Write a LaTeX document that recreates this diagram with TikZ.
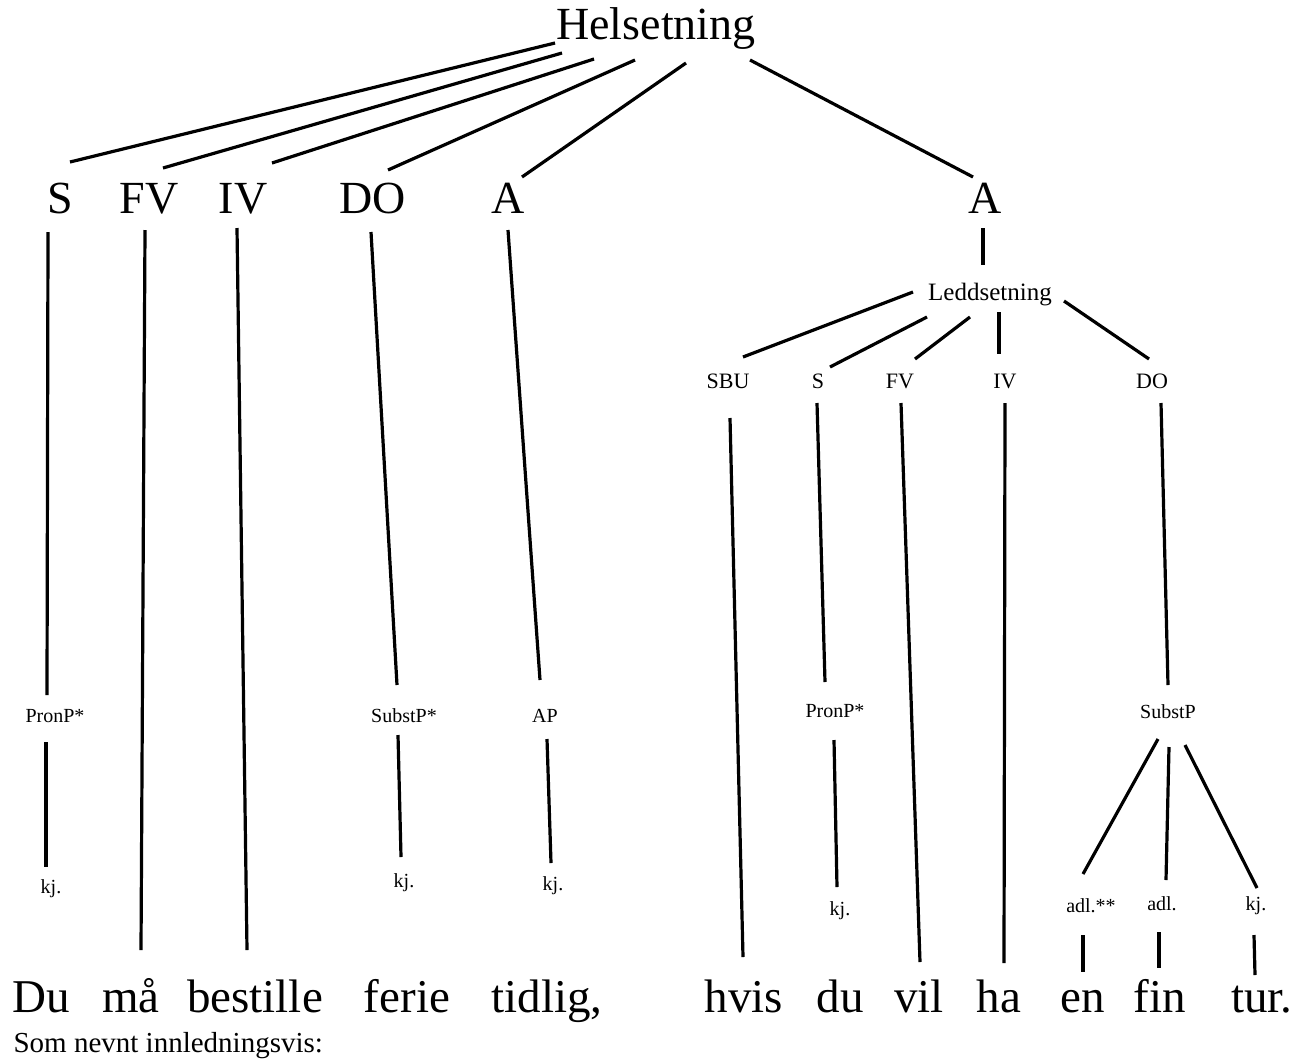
\documentclass[tikz,border=0pt]{standalone}
\usepackage{fontspec}
\setmainfont{Liberation Serif}
\begin{document}
\begin{tikzpicture}[x=1pt,y=-1pt,line width=3.2pt,
  lbl/.style={anchor=base,inner sep=0pt,outer sep=0pt},
  big/.style={lbl,font=\fontsize{46}{46}\selectfont},
  mid/.style={lbl,font=\fontsize{25}{25}\selectfont},
  rowlbl/.style={lbl,font=\fontsize{22}{22}\selectfont},
  sm/.style={lbl,font=\fontsize{20}{20}\selectfont},
  word/.style={lbl,font=\fontsize{47}{47}\selectfont},
  note/.style={anchor=base west,inner sep=0pt,font=\fontsize{29}{29}\selectfont},
  edge/.style={draw=black,line width=3.2pt}]
\useasboundingbox (0,0) rectangle (1311,1061);
\fill[white] (0,0) rectangle (1311,1061);

% main clause
\node[big] (H) at (656,39) {Helsetning};
\node[big] (S) at (60,213) {S};
\node[big] (FV) at (149,213) {FV};
\node[big] (IV) at (243,213) {IV};
\node[big] (DO) at (373,213) {DO};
\node[big] (A1) at (508,213) {A};
\node[big] (A2) at (985,213) {A};

\draw[edge] ([shift={(-101,4)}]H.base) -- ([shift={(10,-51)}]S.base);
\draw[edge] ([shift={(-94,14)}]H.base) -- ([shift={(14,-45)}]FV.base);
\draw[edge] ([shift={(-62,20)}]H.base) -- ([shift={(29,-50)}]IV.base);
\draw[edge] ([shift={(-21,21)}]H.base) -- ([shift={(15,-43)}]DO.base);
\draw[edge] ([shift={(30,24)}]H.base) -- ([shift={(14,-36)}]A1.base);
\draw[edge] ([shift={(94,21)}]H.base) -- ([shift={(-12,-36)}]A2.base);

% subordinate clause
\node[mid] (L) at (990,300) {Leddsetning};
\draw[edge] ([shift={(-2,15)}]A2.base) -- ([shift={(-7,-35)}]L.base);

\node[rowlbl] (SBU) at (728,388) {SBU};
\node[rowlbl] (S2) at (818,388) {S};
\node[rowlbl] (FV2) at (900,388) {FV};
\node[rowlbl] (IV2) at (1005,388) {IV};
\node[rowlbl] (DO2) at (1152,388) {DO};

\draw[edge] ([shift={(-77,-8)}]L.base) -- ([shift={(15,-31)}]SBU.base);
\draw[edge] ([shift={(-63,17)}]L.base) -- ([shift={(12,-21)}]S2.base);
\draw[edge] ([shift={(-20,17)}]L.base) -- ([shift={(15,-29)}]FV2.base);
\draw[edge] ([shift={(9,12)}]L.base) -- ([shift={(-6,-34)}]IV2.base);
\draw[edge] ([shift={(74,1)}]L.base) -- ([shift={(-3,-29)}]DO2.base);

% words
\node[word] (w1) at (41,1012) {Du};
\node[word] (w2) at (131,1012) {må};
\node[word] (w3) at (255,1012) {bestille};
\node[word] (w4) at (407,1012) {ferie};
\node[word] (w5) at (547,1012) {tidlig,};
\node[word] (w6) at (744,1012) {hvis};
\node[word] (w7) at (840,1012) {du};
\node[word] (w8) at (919,1012) {vil};
\node[word] (w9) at (999,1012) {ha};
\node[word] (w10) at (1083,1012) {en};
\node[word] (w11) at (1160,1012) {fin};
\node[word] (w12) at (1262,1012) {tur.};
\node[note] (som) at (12,1052) {Som nevnt innledningsvis:};

% left branches
\node[sm] (P1) at (55,722) {PronP*};
\node[sm] (k1) at (51,893) {kj.};
\draw[edge] ([shift={(-12,19)}]S.base) -- ([shift={(-8,-27)}]P1.base);
\draw[edge] ([shift={(-9,20)}]P1.base) -- ([shift={(-5,-26)}]k1.base);

\draw[edge] ([shift={(-4,17)}]FV.base) -- ([shift={(10,-62)}]w2.base);
\draw[edge] ([shift={(-6,15)}]IV.base) -- ([shift={(-8,-62)}]w3.base);

\node[sm] (P2) at (404,722) {SubstP*};
\node[sm] (k2) at (404,887) {kj.};
\draw[edge] ([shift={(-2,19)}]DO.base) -- ([shift={(-7,-37)}]P2.base);
\draw[edge] ([shift={(-6,13)}]P2.base) -- ([shift={(-3,-30)}]k2.base);

\node[sm] (P3) at (545,722) {AP};
\node[sm] (k3) at (553,890) {kj.};
\draw[edge] ([shift={(0,17)}]A1.base) -- ([shift={(-5,-42)}]P3.base);
\draw[edge] ([shift={(2,17)}]P3.base) -- ([shift={(-2,-27)}]k3.base);

% right branches
\draw[edge] ([shift={(2,30)}]SBU.base) -- ([shift={(-1,-55)}]w6.base);
\node[sm] (P4) at (835,717) {PronP*};
\node[sm] (k4) at (840,915) {kj.};
\draw[edge] ([shift={(-1,15)}]S2.base) -- ([shift={(-10,-35)}]P4.base);
\draw[edge] ([shift={(-1,23)}]P4.base) -- ([shift={(-3,-28)}]k4.base);
\draw[edge] ([shift={(1,15)}]FV2.base) -- ([shift={(1,-50)}]w8.base);
\draw[edge] ([shift={(0,15)}]IV2.base) -- ([shift={(5,-49)}]w9.base);

\node[sm] (P5) at (1168,718) {SubstP};
\draw[edge] ([shift={(9,15)}]DO2.base) -- ([shift={(0,-33)}]P5.base);
\node[sm] (a1) at (1091,912) {adl.**};
\node[sm] (a2) at (1162,910) {adl.};
\node[sm] (k5) at (1256,910) {kj.};
\draw[edge] ([shift={(-10,21)}]P5.base) -- ([shift={(-8,-38)}]a1.base);
\draw[edge] ([shift={(1,29)}]P5.base) -- ([shift={(4,-30)}]a2.base);
\draw[edge] ([shift={(17,27)}]P5.base) -- ([shift={(1,-22)}]k5.base);
\draw[edge] ([shift={(-8,23)}]a1.base) -- ([shift={(0,-40)}]w10.base);
\draw[edge] ([shift={(-3,22)}]a2.base) -- ([shift={(-1,-44)}]w11.base);
\draw[edge] ([shift={(-2,25)}]k5.base) -- ([shift={(-7,-37)}]w12.base);
\end{tikzpicture}
\end{document}
